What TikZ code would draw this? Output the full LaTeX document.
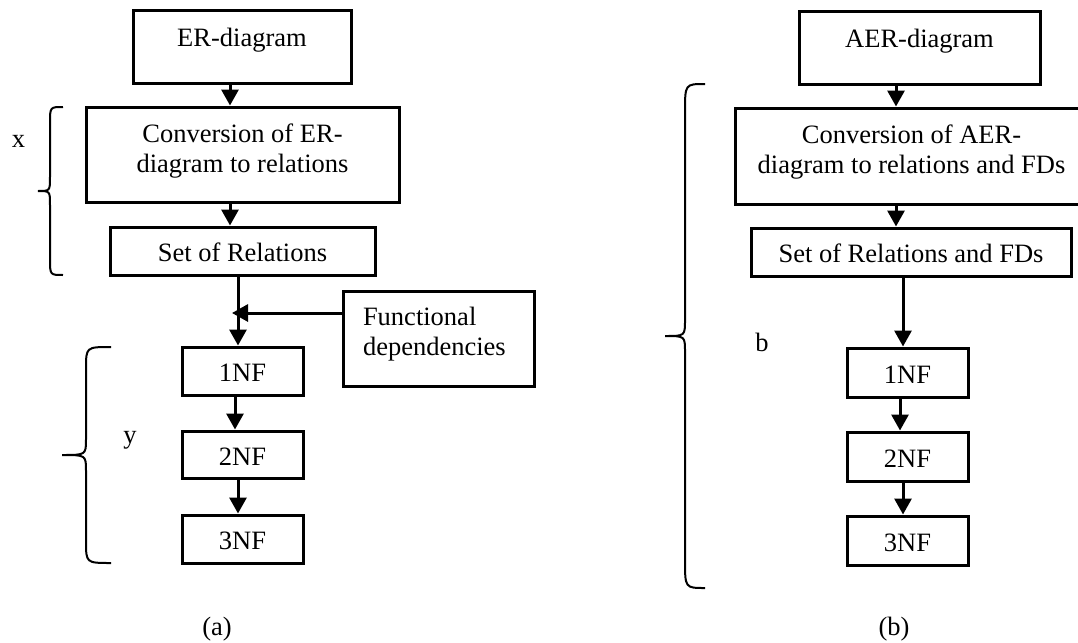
\documentclass[tikz,border=0pt]{standalone}
\usepackage{fontspec}
\setmainfont{Liberation Serif}
\usetikzlibrary{arrows.meta}
% curly brace opening to the right:
% #1 end x, #2 spine x, #3 tip x, #4 top y, #5 bottom y, #6 end bend, #7 middle bend
\newcommand\sidebrace[7]{%
  \draw[brace] (#1,#4) .. controls (#2,#4) .. (#2,#4+#6)
    -- (#2,{(#4+#5)/2-#7}) .. controls (#2,{(#4+#5)/2}) .. (#3,{(#4+#5)/2})
    .. controls (#2,{(#4+#5)/2}) .. (#2,{(#4+#5)/2+#7})
    -- (#2,#5-#6) .. controls (#2,#5) .. (#1,#5);}
\newcommand\deepline[1]{\rule[-#1]{0pt}{#1}}
\begin{document}
\begin{tikzpicture}[x=1pt,y=-1pt,
  txt/.style={font=\fontsize{26.5pt}{30pt}\selectfont},
  box/.style={txt,draw,line width=3pt,rectangle,inner sep=0pt},
  onel/.style={box,text height=21pt,text depth=0pt},
  arr/.style={line width=3pt,-{Triangle[width=17pt,length=16pt]}},
  brace/.style={line width=2pt},
  lbl/.style={txt,anchor=base,inner sep=0pt}]
\useasboundingbox (0,0) rectangle (1078,642);

% ---------- (a) ER-diagram route ----------
\node[box,minimum width=218pt,minimum height=72pt,text height=18pt,text depth=18pt]
  (erA) at (242,47) {ER-diagram};
\node[box,minimum width=313pt,minimum height=95pt,align=center]
  (convA) at (242.5,154.5) {Conversion of ER-\\diagram to relations\deepline{13pt}};
\node[onel,minimum width=265pt,minimum height=48pt] (setA) at (242.5,251) {Set of Relations};
\node[box,minimum width=191pt,minimum height=95pt,text width=151pt,align=left]
  (fdA) at (438.5,338.5) {Functional\\dependencies\deepline{15pt}};
\node[onel,minimum width=121pt,minimum height=48pt] (nfA1) at (242.5,371) {1NF};
\node[onel,minimum width=121pt,minimum height=47pt] (nfA2) at (242.5,454.5) {2NF};
\node[onel,minimum width=121pt,minimum height=48pt] (nfA3) at (242.5,539) {3NF};
\coordinate (joinA) at (238,313);

\draw[arr] ([xshift=-12pt]erA.south) -- ([xshift=-12pt]erA.south |- convA.north);
\draw[arr] ([xshift=-12.5pt]convA.south) -- ([xshift=-12.5pt]convA.south |- setA.north);
\draw[arr] ([xshift=-4.5pt]setA.south) -- ([xshift=-4.5pt]setA.south |- nfA1.north);
\draw[arr] (fdA.west |- joinA) -- ([xshift=-6pt]joinA);
\draw[arr] ([xshift=-7.5pt]nfA1.south) -- ([xshift=-7.5pt]nfA2.north);
\draw[arr] ([xshift=-4.5pt]nfA2.south) -- ([xshift=-4.5pt]nfA3.north);

\sidebrace{63}{50}{38}{107}{275}{16}{14}
\sidebrace{111}{86}{62}{347}{563}{22}{16}
\node[lbl] (xlab) at (18.5,147) {x};
\node[lbl] (ylab) at (130,443) {y};
\node[lbl] (capA) at (217,635) {(a)};

% ---------- (b) AER-diagram route ----------
\node[box,minimum width=241pt,minimum height=72pt,text height=18pt,text depth=18pt]
  (aer) at (919.5,48) {AER-diagram};
\node[box,minimum width=353pt,minimum height=96pt,align=center]
  (convB) at (911.5,156) {Conversion of AER-\\diagram to relations and FDs\deepline{14pt}};
\node[onel,minimum width=320pt,minimum height=48pt] (setB) at (911,252) {Set of Relations and FDs};
\node[onel,minimum width=121pt,minimum height=49pt] (nfB1) at (907.5,372.5) {1NF};
\node[onel,minimum width=121pt,minimum height=49pt] (nfB2) at (907.5,456.5) {2NF};
\node[onel,minimum width=121pt,minimum height=49pt] (nfB3) at (907.5,540.5) {3NF};

\draw[arr] ([xshift=-23.5pt]aer.south) -- ([xshift=-23.5pt]aer.south |- convB.north);
\draw[arr] ([xshift=-15.5pt]convB.south) -- ([xshift=-15.5pt]convB.south |- setB.north);
\draw[arr] ([xshift=-8pt]setB.south) -- ([xshift=-4.5pt]nfB1.north);
\draw[arr] ([xshift=-7.5pt]nfB1.south) -- ([xshift=-7.5pt]nfB2.north);
\draw[arr] ([xshift=-4.5pt]nfB2.south) -- ([xshift=-4.5pt]nfB3.north);

\sidebrace{705}{685}{665}{84}{588}{28}{16}
\node[lbl] (blab) at (762,351) {b};
\node[lbl] (capB) at (894,635) {(b)};
\end{tikzpicture}
\end{document}
